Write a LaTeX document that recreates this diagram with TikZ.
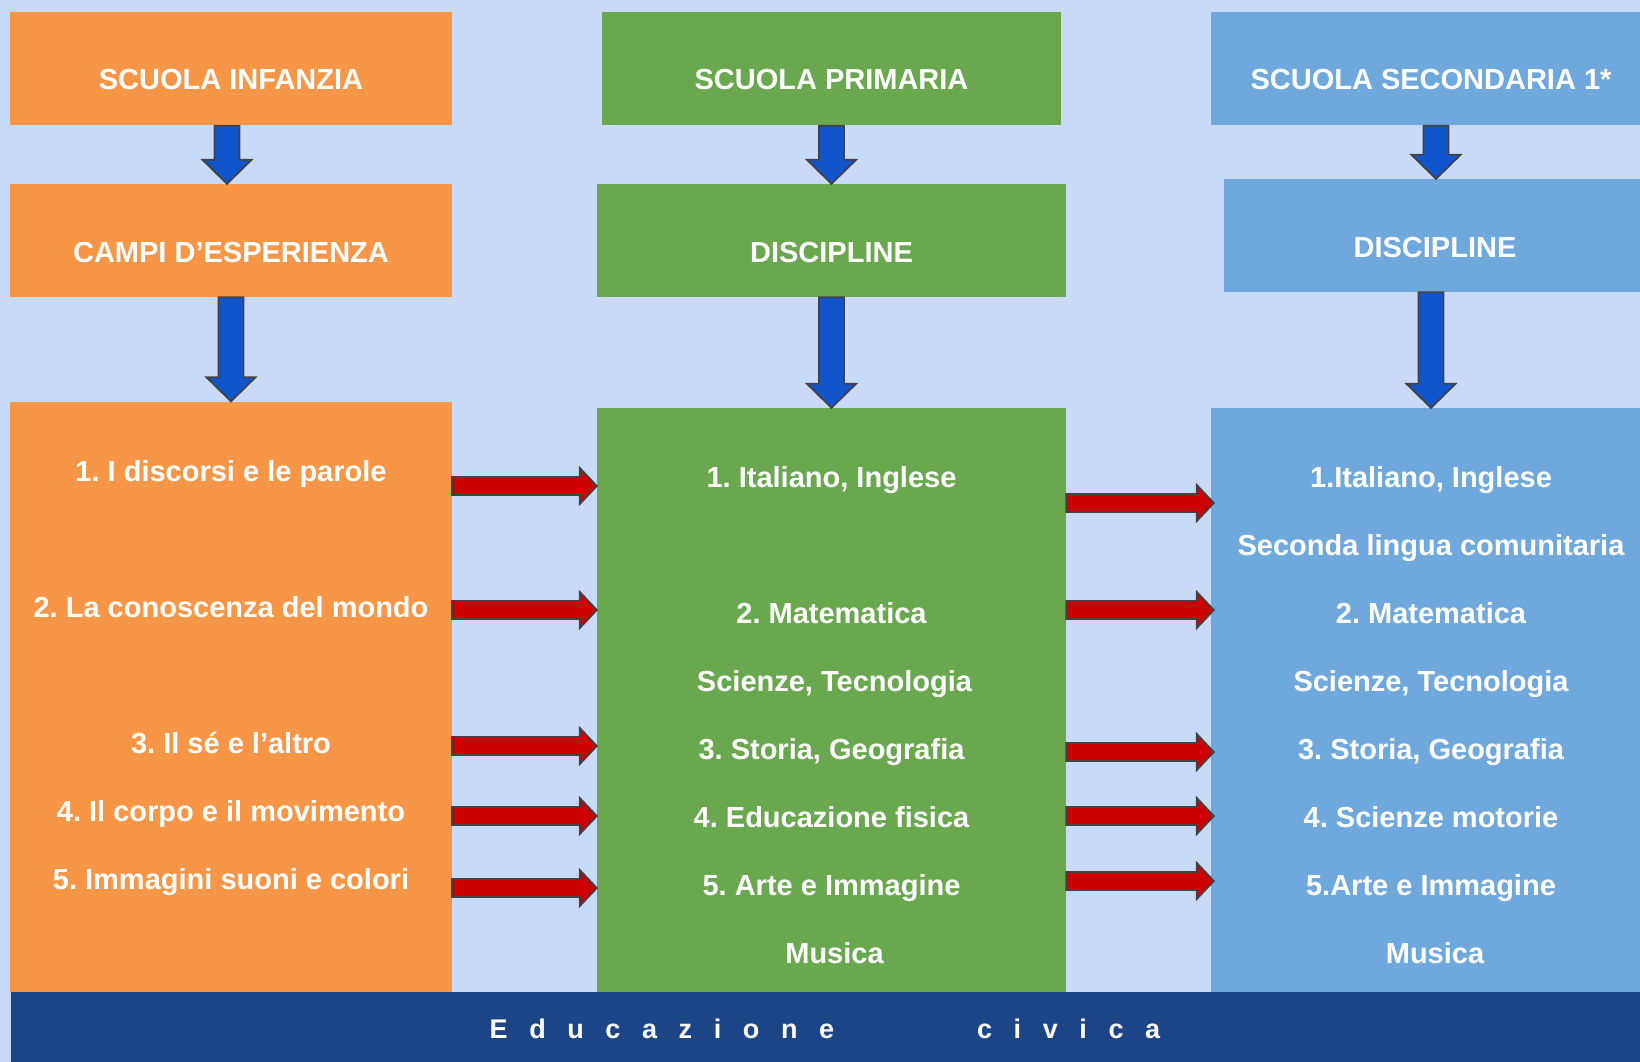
\documentclass[tikz,border=0pt]{standalone}
\usepackage{fontspec}
\setmainfont{Liberation Sans}
\usepackage{tikz}
\usetikzlibrary{calc}
\frenchspacing

\definecolor{bgblue}{HTML}{C9DAF8}
\definecolor{orangebox}{HTML}{F79646}
\definecolor{greenbox}{HTML}{6AA84F}
\definecolor{bluebox}{HTML}{6FA8DC}
\definecolor{navyband}{HTML}{1C4587}
\definecolor{arrowblue}{HTML}{1155CC}
\definecolor{arrowred}{HTML}{CC0000}
\definecolor{outline}{HTML}{434343}

% fat arrow pointing down, tip at #2
\newcommand{\blockdown}[2]{%
  \draw[downarr] let \p1=(#1), \p2=(#2) in
    (\x2-12.5pt,\y1) -- (\x2+12.5pt,\y1) -- (\x2+12.5pt,\y2+24pt) -- (\x2+24.5pt,\y2+24pt)
    -- (\x2,\y2) -- (\x2-24.5pt,\y2+24pt) -- (\x2-12.5pt,\y2+24pt) -- cycle;}
% fat arrow pointing right, from #1 to x of #2
\newcommand{\blockright}[2]{%
  \draw[rightarr] let \p1=(#1), \p2=(#2) in
    (\x1,\y1+9pt) -- (\x2-17pt,\y1+9pt) -- (\x2-17pt,\y1+18pt) -- (\x2,\y1)
    -- (\x2-17pt,\y1-18pt) -- (\x2-17pt,\y1-9pt) -- (\x1,\y1-9pt) -- cycle;}

\begin{document}
\begin{tikzpicture}[x=1pt, y=-1pt,
    box/.style={rectangle, inner sep=0pt, draw=none},
    txt/.style={text=white, font=\bfseries\fontsize{29}{34}\selectfont, text height=20.8pt, text depth=0pt, inner sep=0pt},
    downarr/.style={fill=arrowblue, draw=outline, line width=1.8pt, line join=miter},
    rightarr/.style={fill=arrowred, draw=outline, line width=1.8pt, line join=miter}
]
\fill[bgblue] (0,0) rectangle (1640,1062);

% headers
\node[box, fill=orangebox, minimum width=441.5pt, minimum height=113pt] (infanzia) at (231,69) {};
\node[box, fill=greenbox, minimum width=458.5pt, minimum height=113pt] (primaria) at (831.25,69) {};
\node[box, fill=bluebox, minimum width=429pt, minimum height=113pt] (secondaria) at (1425.5,69) {};
\node[txt] (tinfanzia) at (231,79.5) {SCUOLA INFANZIA};
\node[txt] (tprimaria) at (831.5,79.5) {SCUOLA PRIMARIA};
\node[txt] (tsecondaria) at (1431,79.5) {SCUOLA SECONDARIA 1*};

% second row
\node[box, fill=orangebox, minimum width=441.5pt, minimum height=113pt] (campi) at (231,240.5) {};
\node[box, fill=greenbox, minimum width=469pt, minimum height=113pt] (discP) at (831.5,240.5) {};
\node[box, fill=bluebox, minimum width=416pt, minimum height=113pt] (discS) at (1432,235.5) {};
\node[txt] (tcampi) at (231,252) {CAMPI D’ESPERIENZA};
\node[txt] (tdiscP) at (831.5,252) {DISCIPLINE};
\node[txt] (tdiscS) at (1435,247) {DISCIPLINE};

% lists
\node[box, fill=orangebox, minimum width=441.5pt, minimum height=590pt] (listI) at (231,696.5) {};
\node[box, fill=greenbox, minimum width=469pt, minimum height=583.5pt] (listP) at (831.5,699.75) {};
\node[box, fill=bluebox, minimum width=429pt, minimum height=583.5pt] (listS) at (1425.5,699.75) {};

\node[txt] (i1) at (231,470.7) {1. I discorsi e le parole};
\node[txt] (i2) at (231,606.6) {2. La conoscenza del mondo};
\node[txt] (i3) at (231,742.6) {3. Il sé e l’altro};
\node[txt] (i4) at (231,810.6) {4. Il corpo e il movimento};
\node[txt] (i5) at (231,878.6) {5. Immagini suoni e colori};

\node[txt] (p1) at (831.5,477) {1. Italiano, Inglese};
\node[txt] (p2) at (831.5,613) {2. Matematica};
\node[txt] (p2b) at (834.5,681) {Scienze, Tecnologia};
\node[txt] (p3) at (831.5,749) {3. Storia, Geografia};
\node[txt] (p4) at (831.5,817) {4. Educazione fisica};
\node[txt] (p5) at (831.5,885) {5. Arte e Immagine};
\node[txt] (p5b) at (834.5,953) {Musica};

\node[txt] (s1) at (1431,477) {1.Italiano, Inglese};
\node[txt] (s1b) at (1431,545) {Seconda lingua comunitaria};
\node[txt] (s2) at (1431,613) {2. Matematica};
\node[txt] (s2b) at (1431,681) {Scienze, Tecnologia};
\node[txt] (s3) at (1431,749) {3. Storia, Geografia};
\node[txt] (s4) at (1431,817) {4. Scienze motorie};
\node[txt] (s5) at (1431,885) {5.Arte e Immagine};
\node[txt] (s5b) at (1435,953) {Musica};

% bottom band
\node[box, fill=navyband, minimum width=1629.5pt, minimum height=70.5pt] (civica) at (825.25,1026.75) {};
\node[txt, anchor=west, font=\bfseries\fontsize{27}{31}\selectfont\addfontfeature{LetterSpace=80}] (tcivica) at (489.5,1028) {Educazione\hspace{143pt}civica};

% blue arrows
\blockdown{infanzia.south}{[xshift=-4pt]campi.north}
\blockdown{campi.south}{listI.north}
\blockdown{primaria.south}{discP.north}
\blockdown{discP.south}{listP.north}
\blockdown{secondaria.south}{[xshift=4pt]discS.north}
\blockdown{discS.south}{[xshift=5.5pt]listS.north}

% red arrows
\foreach \yy [count=\i] in {486,610,746,816,888}
  \coordinate (ra\i) at (0,\yy);
\foreach \yy [count=\i] in {503,610,752,816,881}
  \coordinate (rb\i) at (0,\yy);
\foreach \i in {1,...,5} {
  \blockright{listI.east |- ra\i}{listP.west}
  \blockright{listP.east |- rb\i}{[xshift=3pt]listS.west}
}
\end{tikzpicture}
\end{document}
